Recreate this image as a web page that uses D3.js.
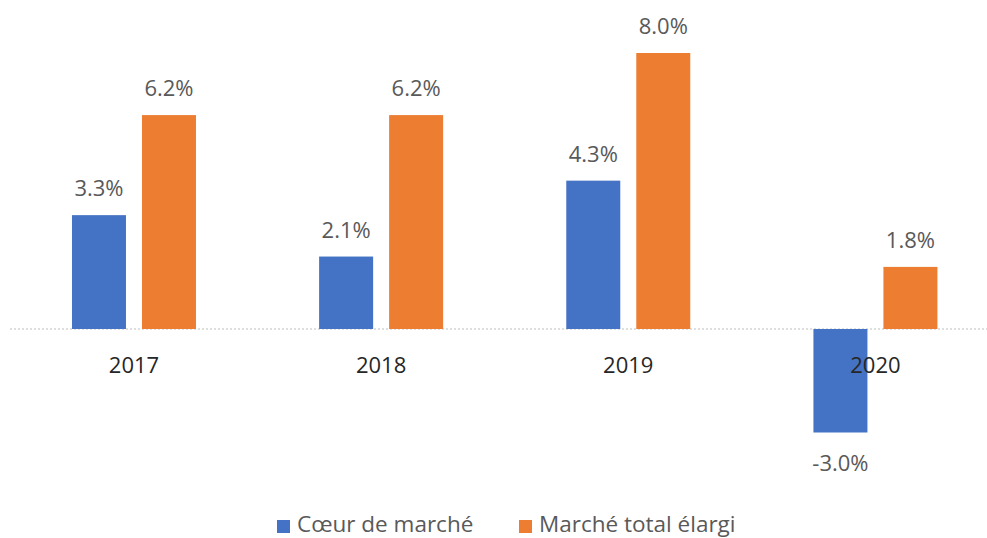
<!DOCTYPE html>
<html><head><meta charset="utf-8">
<script src="https://cdn.jsdelivr.net/npm/d3@7"></script>
<style>html,body{margin:0;padding:0;background:#fff;}svg{display:block;}</style>
</head><body>
<svg id="c" width="987" height="538"></svg>
<script>
const categories = ["2017", "2018", "2019", "2020"];
const seriesNames = ["Cœur de marché", "Marché total élargi"];
const coeurValues = [3.3, 2.1, 4.3, -3.0];
const totalValues = [6.2, 6.2, 8.0, 1.8];
const colors = ["#4472C4", "#ED7D31"];

const svg = d3.select("#c");
const font = "'Open Sans', sans-serif";

const x0 = d3.scaleBand().domain(categories).range([10.4, 999]).padding(0);
const bw = x0.bandwidth();
const x1 = d3.scaleBand().domain(seriesNames).range([bw/2 - 62, bw/2 + 62]).paddingInner(0.2286);
const y = d3.scaleLinear().domain([0, 8]).range([329, 53]);

// zero line
svg.append("line")
  .attr("x1", 10).attr("x2", 987)
  .attr("y1", y(0)).attr("y2", y(0))
  .attr("stroke", "#BFBFBF").attr("stroke-width", 1)
  .attr("stroke-dasharray", "2,2");

const data = categories.map((c, i) => ({cat: c, vals: [
  {s: seriesNames[0], v: coeurValues[i], k: 0},
  {s: seriesNames[1], v: totalValues[i], k: 1}
]}));

const g = svg.selectAll("g.cat").data(data).join("g")
  .attr("class", "cat")
  .attr("transform", d => `translate(${x0(d.cat)},0)`);

g.selectAll("rect").data(d => d.vals).join("rect")
  .attr("x", d => x1(d.s))
  .attr("width", x1.bandwidth())
  .attr("y", d => Math.min(y(d.v), y(0)))
  .attr("height", d => Math.abs(y(d.v) - y(0)))
  .attr("fill", d => colors[d.k]);

g.selectAll("text.lbl").data(d => d.vals).join("text")
  .attr("class", "lbl")
  .attr("x", d => x1(d.s) + x1.bandwidth()/2)
  .attr("y", d => d.v >= 0 ? y(d.v) - 19 : y(d.v) + 38)
  .attr("text-anchor", "middle")
  .attr("font-family", font).attr("font-size", 22)
  .attr("fill", "#595959")
  .text(d => d.v.toFixed(1) + "%");

// category labels
svg.selectAll("text.cat").data(categories).join("text")
  .attr("class", "cat")
  .attr("x", d => x0(d) + bw/2)
  .attr("y", 373)
  .attr("text-anchor", "middle")
  .attr("font-family", font).attr("font-size", 22)
  .attr("fill", "#262626")
  .text(d => d);

// legend
const legendX = [277, 519];
const lg = svg.selectAll("g.leg").data(seriesNames).join("g")
  .attr("class", "leg")
  .attr("transform", (d, i) => `translate(${legendX[i]},0)`);
lg.append("rect").attr("x", 0).attr("y", 520).attr("width", 13).attr("height", 13)
  .attr("fill", (d, i) => colors[i]);
lg.append("text").attr("x", 20).attr("y", 532)
  .attr("font-family", font).attr("font-size", 22.5)
  .attr("fill", "#595959")
  .text(d => d);
</script>
</body></html>
